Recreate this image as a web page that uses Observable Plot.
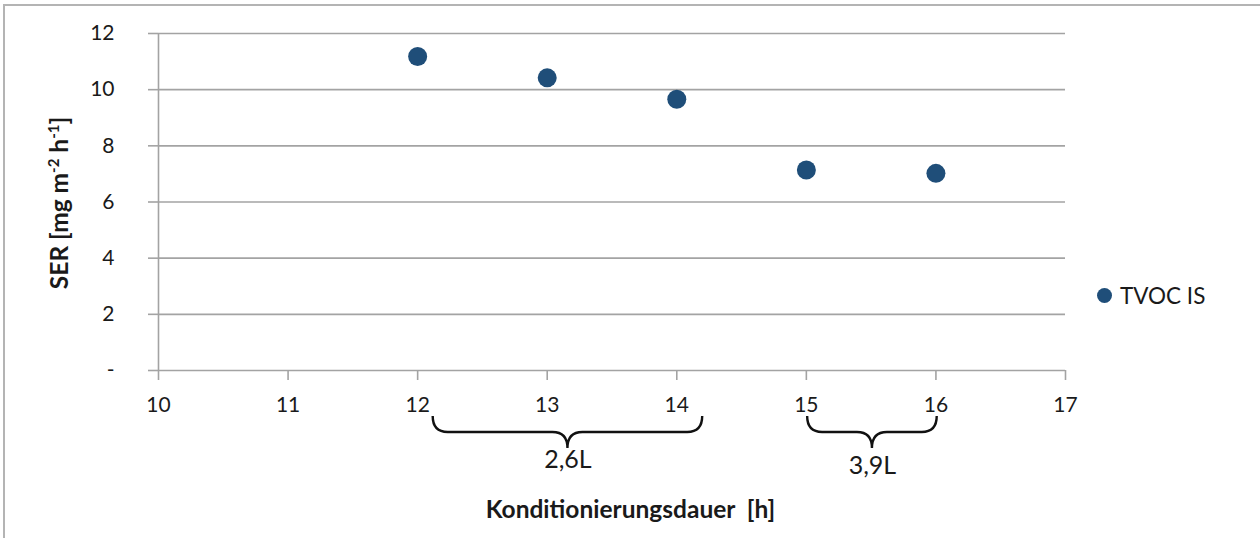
<!DOCTYPE html>
<html>
<head>
<meta charset="utf-8">
<script src="https://cdn.jsdelivr.net/npm/d3@7"></script>
<script src="https://cdn.jsdelivr.net/npm/@observablehq/plot@0.6"></script>
<style>
  html, body { margin: 0; padding: 0; background: #fff; overflow: hidden; }
  #wrap { position: relative; width: 1260px; height: 538px; }
  #border { position: absolute; left: 3px; top: 4px; width: 1300px; height: 600px; border: 2px solid #b4b4b4; pointer-events: none; box-sizing: border-box; }
  #legend { position: absolute; left: 1097px; top: 282px; font-family: Lato, sans-serif; font-size: 22.5px; color: #1a1a1a; display: flex; align-items: center; }
  #legend .sw { width: 15px; height: 15px; border-radius: 50%; background: #1F4E79; margin-right: 8px; }
</style>
</head>
<body>
<div id="wrap">
  <div id="chart"></div>
  <div id="legend"></div>
  <div id="border"></div>
</div>
<script>
// ---- data ----
const hours = [12, 13, 14, 15, 16];
const serValues = [11.18, 10.42, 9.66, 7.14, 7.02];
const seriesName = "TVOC IS";
const xTicks = [10, 11, 12, 13, 14, 15, 16, 17];
const yTicks = [0, 2, 4, 6, 8, 10, 12];
const yTickLabels = ["-", "2", "4", "6", "8", "10", "12"];
const braceStart = [12.12, 15.01];
const braceEnd = [14.2, 16.01];
const braceLabels = ["2,6L", "3,9L"];
const xTitle = "Konditionierungsdauer\u00a0 [h]";

const points = hours.map((h, i) => ({hour: h, ser: serValues[i]}));
const braces = braceLabels.map((l, i) => ({start: braceStart[i], end: braceEnd[i], label: l}));

const gridColor = "#a3a3a3";
const dotColor = "#1F4E79";

function braceMark(index, scales, values, dims) {
  const g = d3.create("svg:g");
  const yBase = dims.height - dims.marginBottom;
  for (const b of braces) {
    const x1 = scales.x(b.start), x2 = scales.x(b.end), cx = (x1 + x2) / 2;
    const top = yBase + 46, mid = yBase + 62, tip = yBase + 78, r = 15;
    const p = `M${x1},${top} Q${x1},${mid} ${x1 + r},${mid} L${cx - r},${mid} Q${cx},${mid} ${cx},${tip} Q${cx},${mid} ${cx + r},${mid} L${x2 - r},${mid} Q${x2},${mid} ${x2},${top}`;
    g.append("path").attr("d", p).attr("fill", "none").attr("stroke", "#111").attr("stroke-width", 2.4);
  }
  return g.node();
}

const chart = Plot.plot({
  width: 1260,
  height: 538,
  marginLeft: 158,
  marginRight: 195,
  marginTop: 33,
  marginBottom: 168,
  style: {fontFamily: "Lato, sans-serif", fontSize: "21px", color: "#1a1a1a", background: "transparent", overflow: "visible"},
  x: {domain: [10, 17], label: null},
  y: {domain: [0, 12], label: null},
  marks: [
    Plot.gridY(yTicks, {stroke: gridColor, strokeOpacity: 1, strokeWidth: 1.6}),
    Plot.ruleX([10], {stroke: gridColor, strokeWidth: 1.6}),
    Plot.axisX(xTicks, {tickSize: 10, tickPadding: 17, stroke: gridColor, strokeWidth: 1.6, fill: "#1a1a1a", label: null, tickFormat: d => String(d)}),
    Plot.axisY(yTicks, {tickSize: 10, tickPadding: 34, stroke: gridColor, strokeWidth: 1.6, fill: "#1a1a1a", label: null, tickFormat: d => yTickLabels[yTicks.indexOf(d)]}),
    Plot.dot(points, {x: "hour", y: "ser", r: 9.5, fill: dotColor, stroke: "none"}),
    braceMark,
    Plot.text([braces[0]], {x: d => (d.start + d.end) / 2, text: "label", frameAnchor: "bottom", dy: 97, fontSize: 25, fill: "#1a1a1a"}),
    Plot.text([braces[1]], {x: d => (d.start + d.end) / 2, text: "label", frameAnchor: "bottom", dy: 103, fontSize: 25, fill: "#1a1a1a"}),
    Plot.text([xTitle], {text: d => d, frameAnchor: "bottom", lineAnchor: "bottom", dx: 18.5, dy: 147, fontWeight: "bold", fontSize: 24.5, fill: "#1a1a1a"})
  ]
});

document.getElementById("chart").appendChild(chart);

// Y axis title with superscripts
const t = d3.select(chart).append("text")
  .attr("transform", "translate(68,203) rotate(-90)")
  .attr("text-anchor", "middle")
  .attr("font-family", "Lato, sans-serif")
  .attr("font-weight", "bold")
  .attr("font-size", 24.5)
  .attr("fill", "#1a1a1a");
t.append("tspan").text("SER [mg m");
t.append("tspan").attr("baseline-shift", "super").attr("font-size", 15).text("-2");
t.append("tspan").text(" h");
t.append("tspan").attr("baseline-shift", "super").attr("font-size", 15).text("-1");
t.append("tspan").text("]");

// Legend
const lg = document.getElementById("legend");
lg.innerHTML = `<span class="sw"></span><span>${seriesName}</span>`;
</script>
</body>
</html>
